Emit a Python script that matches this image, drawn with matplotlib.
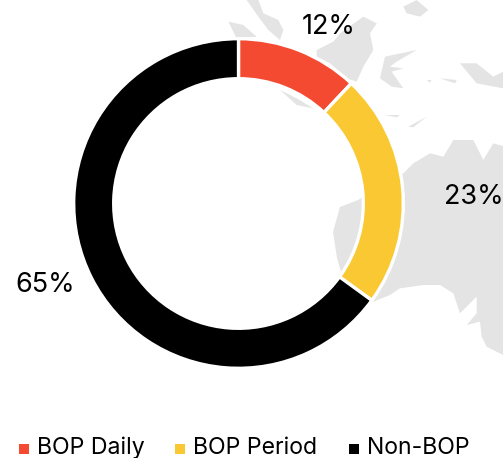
import matplotlib
matplotlib.use("Agg")
import matplotlib.pyplot as plt
from matplotlib.patches import Polygon

W, H = 503, 458
categories = ["BOP Daily", "BOP Period", "Non-BOP"]
values = [12, 23, 65]
labels = ["12%", "23%", "65%"]
colors = ["#F44A32", "#FAC832", "#000000"]
map_color = "#E4E4E4"
font = ["Inter", "DejaVu Sans"]

# decorative backdrop outlines, given as zoom-crop pixels
def z1(pts):
    return [(200 + x / 3, y / 3) for x, y in pts]

def z2(pts):
    return [(340 + x / 3, 200 + y / 3) for x, y in pts]

australia = (
    [(358, 200), (340, 207), (333, 232), (337, 258), (341, 272)]
    + z2([(100, 305), (150, 285), (180, 265), (250, 255), (300, 255), (340, 280),
          (360, 340), (410, 290), (410, 340), (380, 375), (420, 365), (425, 410),
          (440, 440), (489, 465)])
    + [(503, 146)]
    + z1([(880, 430), (850, 480), (820, 420), (760, 420), (730, 470), (690, 460), (640, 490), (610, 520)])
)
islands = [
    z1([(140, 0), (175, 0), (190, 40), (235, 60), (250, 90), (240, 120), (205, 90), (175, 50)]),
    z1([(85, 65), (130, 75), (170, 110), (110, 115)]),
    z1([(350, 150), (400, 125), (420, 100), (490, 50), (530, 70), (510, 100), (520, 150),
        (490, 200), (470, 245), (440, 235), (390, 190), (350, 170)]),
    z1([(540, 235), (555, 170), (650, 150), (590, 185), (570, 200), (610, 205), (575, 215), (610, 265), (575, 260)]),
    z1([(610, 20), (650, 0), (685, 30), (660, 50), (620, 40)]),
    z1([(780, 190), (830, 190), (880, 230), (909, 215), (909, 265), (830, 250)]),
    z1([(240, 270), (290, 295), (340, 325), (290, 315)]),
    z1([(555, 345), (600, 345), (590, 352)]),
    z1([(625, 380), (680, 350), (640, 382)]),
    z1([(680, 240), (695, 240), (690, 248)]),
    z1([(720, 235), (770, 240), (765, 250)]),
]

fig = plt.figure(figsize=(W / 100, H / 100), dpi=100, facecolor="white")
ax = fig.add_axes([0, 0, 1, 1])
ax.set_xlim(0, W)
ax.set_ylim(0, H)
ax.axis("off")

def flip(pts):
    return [(x, H - y) for x, y in pts]

for poly in [australia] + islands:
    ax.add_patch(Polygon(flip(poly), closed=True, facecolor=map_color, edgecolor="none", zorder=1))

wedges, _ = ax.pie(
    values, colors=colors, startangle=90, counterclock=False,
    center=(238.5, H - 203.5), radius=164.8,
    wedgeprops=dict(width=40, edgecolor="white", linewidth=2.4, zorder=2),
    frame=True,
)
ax.set_xlim(0, W)
ax.set_ylim(0, H)
ax.set_aspect("auto")
ax.axis("off")

label_pos = [(328.5, 26.5), (474, 196.5), (45, 284.5)]
for text, (x, y) in zip(labels, label_pos):
    ax.text(x, H - y, text, ha="center", va="center", fontsize=19.5, family=font, color="#000000", zorder=3)

legend_pos = [(24.5, 37), (180, 193), (354.5, 367)]
for name, color, (mx, tx) in zip(categories, colors, legend_pos):
    ax.scatter([mx], [H - 448.5], marker="s", s=62, color=color, linewidths=0, zorder=3)
    ax.text(tx, H - 447.5, name, ha="left", va="center", fontsize=16.6, family=font, color="#000000", zorder=3)

fig.savefig("out.png", dpi=100, facecolor="white")
